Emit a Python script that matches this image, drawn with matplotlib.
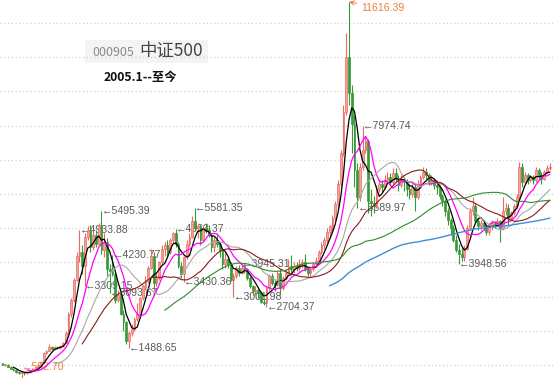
import numpy as np
import pandas as pd
import matplotlib
matplotlib.use("Agg")
import matplotlib.pyplot as plt
from matplotlib.patches import Rectangle

# ---------------- data (monthly OHLC, 2005.1 onward) ----------------
open_ = [1050,1000,1010,940,880,840,790,760,780,770,800,830,
         870,930,1000,1100,1350,1420,1520,1480,1530,1500,1560,1650,
         1950,2500,2900,3500,4200,4300,3900,4750,4950,4450,4800,4550,
         5100,4350,4600,3800,3750,3650,2900,3050,2500,2250,1700,1950,
         2050,2350,2500,2950,3300,3450,3850,4200,3400,3550,4000,4400,
         4500,4300,4650,4850,4550,3900,3650,4150,4550,4750,5200,5000,
         5050,4650,5000,4950,4800,4450,4650,4550,4350,3950,4100,3950,
         3500,3600,3850,3700,3850,3800,3550,3300,3150,3200,3100,2850,
         2800,3250,3600,3400,3350,3700,3250,3550,3700,3900,3800,3900,
         3850,3950,4000,3800,3700,3800,3950,4050,4300,4500,4650,4900,
         5050,5300,5700,6300,7200,8400,10000,8950,8050,6700,5900,6800,
         7300,7550,5800,5750,5650,6150,6300,6200,6400,6500,6350,6600,
         6450,6250,6450,6350,6150,6000,6200,5900,6300,6500,6650,6550,
         6350,6400,6250,6200,5950,5800,5500,5250,5000,4650,4350,4250,
         4150,4400,5000,5500,5650,5200,5050,5150,5050,4900,5050,5150,
         5100,5200,5000,5500,5600,5300,5450,5650,5900,6800,6350,6550,
         6400,6500,6400,6700,6550,6450,6650,6750]
high = [1070,1040,1020,960,900,860,810,800,800,820,850,880,
        940,1010,1120,1380,1450,1600,1560,1560,1570,1590,1680,1980,
        2550,2950,3550,4300,4933.88,4500,4850,5050,5100,4900,4950,5150,
        5495.39,4850,4700,3950,4230.77,3700,3200,3100,2600,2300,2000,2200,
        2400,2800,3000,3350,3600,3900,4400,4300,3700,4050,4500,4600,
        4650,4700,4900,4963.37,4600,4000,4200,4650,4850,5350,5581.35,5150,
        5100,5100,5150,5100,4850,4750,4800,4600,4400,4300,4200,4000,
        3700,3900,3920,3945.31,3940,3850,3600,3350,3300,3250,3150,2950,
        3300,3650,3700,3500,3750,3800,3600,3800,4100,4220,4000,4000,
        4100,4100,4250,3850,3850,4000,4150,4350,4600,4750,5000,5100,
        5400,5800,6400,7300,8600,10700,11616.39,9200,8300,6900,6900,7974.74,
        7700,7600,6150,5950,6250,6450,6400,6550,6650,6600,6750,6750,
        6550,6550,6500,6450,6300,6300,6300,6400,6550,6800,6750,6600,
        6550,6450,6400,6250,6000,5850,5600,5300,5100,4800,4550,4450,
        4500,5100,5600,5900,5750,5300,5250,5200,5100,5150,5250,5200,
        5300,5250,5900,5750,5700,5500,5700,6000,6950,6900,6650,6600,
        6550,6550,6800,6750,6650,6700,6850,6900]
low = [990,970,930,870,830,780,740,592.70,700,750,780,810,
       850,910,980,1090,1320,1400,1440,1450,1460,1480,1540,1630,
       1900,2400,2850,3450,4000,3650,3309.15,4650,4300,4350,4450,4500,
       4250,4150,3600,3093.67,3600,2800,2850,2450,2000,1600,1488.65,1850,
       2000,2300,2450,2900,3200,3400,3800,3200,3300,3500,3950,4200,
       4150,4250,4550,4450,3850,3550,3430.36,4100,4450,4700,4950,4700,
       4500,4600,4850,4750,4300,4300,4450,4150,3800,3850,3850,3450,
       3001.98,3550,3600,3650,3700,3500,3250,3050,3050,2950,2800,2750,
       2704.37,3200,3350,3150,3300,3050,3200,3500,3650,3700,3700,3750,
       3750,3850,3750,3600,3600,3750,3900,4000,4250,4400,4550,4700,
       4900,5200,5600,6200,7100,8300,8600,7200,6200,5589.97,5800,6700,
       7200,5450,5350,5450,5600,6050,6050,6150,6300,6250,6300,6350,
       6100,6200,6100,5950,5850,5900,5500,5850,6250,6450,6450,6250,
       6250,6150,6000,5850,5650,5350,5100,4800,4600,4300,3948.56,4050,
       4050,4350,4950,5400,5150,4950,4950,4950,4800,4800,4950,5000,
       5050,4600,4950,5400,5100,5250,5400,5600,5850,6200,6300,6300,
       6350,6300,6350,6450,6300,6400,6600,6700]
close = [1000,1010,940,880,840,790,760,780,770,800,830,870,
         930,1000,1100,1350,1420,1520,1480,1530,1500,1560,1650,1950,
         2500,2900,3500,4200,4300,3900,4750,4950,4450,4800,4550,5100,
         4350,4600,3800,3750,3650,2900,3050,2500,2250,1700,1950,2050,
         2350,2500,2950,3300,3450,3850,4200,3400,3550,4000,4400,4500,
         4300,4650,4850,4550,3900,3650,4150,4550,4750,5200,5000,5050,
         4650,5000,4950,4800,4450,4650,4550,4350,3950,4100,3950,3500,
         3600,3850,3700,3850,3800,3550,3300,3150,3200,3100,2850,2800,
         3250,3600,3400,3350,3700,3250,3550,3700,3900,3800,3900,3850,
         3950,4000,3800,3700,3800,3950,4050,4300,4500,4650,4900,5050,
         5300,5700,6300,7200,8400,10000,8950,8050,6700,5900,6800,7300,
         7550,5800,5750,5650,6150,6300,6200,6400,6500,6350,6600,6450,
         6250,6450,6350,6150,6000,6200,5900,6300,6500,6650,6550,6350,
         6400,6250,6200,5950,5800,5500,5250,5000,4650,4350,4250,4150,
         4400,5000,5500,5650,5200,5050,5150,5050,4900,5050,5150,5100,
         5200,5000,5500,5600,5300,5450,5650,5900,6800,6350,6550,6400,
         6500,6400,6700,6550,6450,6650,6750,6800]

ma_windows = [5, 10, 20, 30, 60, 120]
ma_colors = ["#000000", "#ff00ff", "#a8a8a8", "#8b1a1a", "#2e8b2e", "#3d8fd8"]
ma_widths = [0.9, 0.9, 0.8, 0.8, 0.8, 1.0]

# extreme-point labels: (candle index, value, text)
grey_labels = [(28, 4933.88, "4933.88"), (36, 5495.39, "5495.39"),
               (40, 4230.77, "4230.77"), (30, 3309.15, "3309.15"),
               (39, 3093.67, "3093.67"), (46, 1488.65, "1488.65"),
               (63, 4963.37, "4963.37"), (70, 5581.35, "5581.35"),
               (66, 3430.36, "3430.36"), (87, 3945.31, "3945.31"),
               (84, 3001.98, "3001.98"), (96, 2704.37, "2704.37"),
               (131, 7974.74, "7974.74"), (129, 5589.97, "5589.97"),
               (166, 3948.56, "3948.56")]
peak_label = (126, 11616.39, "11616.39")
trough_label = (7, 592.70, "592.70")

grid_levels = [1000, 2000, 3000, 4000, 5000, 6000, 7000, 8000, 9000, 10000, 11000]

# ---------------- figure ----------------
W, H = 554, 378
fig = plt.figure(figsize=(W / 100, H / 100), dpi=100)
fig.patch.set_facecolor("white")
ax = fig.add_axes([0, 0, 1, 1])
ax.set_xlim(-0.909, 200.55)
ax.set_ylim(619.9, 11672.5)
ax.axis("off")

for g in grid_levels:
    ax.axhline(g, color="#d2d2d2", lw=0.9, ls=(0, (1, 2)), zorder=0)

o = np.array(open_, float); h = np.array(high, float)
l = np.array(low, float); c = np.array(close, float)
idx = np.arange(len(c))
up = c >= o
up_face, up_edge = "#f5a39d", "#ec6a62"
dn_col = "#379a37"

ax.vlines(idx[up], l[up], h[up], color=up_edge, lw=0.8, zorder=3)
ax.vlines(idx[~up], l[~up], h[~up], color=dn_col, lw=0.8, zorder=3)
body_lo = np.minimum(o, c)
body_h = np.maximum(np.abs(c - o), 25)
ax.bar(idx[up], body_h[up], bottom=body_lo[up], width=0.72,
       color=up_face, edgecolor=up_edge, linewidth=0.5, zorder=3)
ax.bar(idx[~up], body_h[~up], bottom=body_lo[~up], width=0.72,
       color=dn_col, edgecolor=dn_col, linewidth=0.5, zorder=3)

cs = pd.Series(c)
for n, col, lw in zip(ma_windows, ma_colors, ma_widths):
    ax.plot(idx, cs.rolling(n).mean().values, color=col, lw=lw, zorder=4)

lab_font = ["Liberation Sans", "DejaVu Sans"]
for i, v, t in grey_labels:
    ax.text(i + 0.1, v, "\u2190" + t, ha="left", va="center", fontsize=7.6,
            color="#5a5a5a", family=lab_font, zorder=1)

orange = "#f07d3a"
pi, pv, pt = peak_label
ax.annotate(pt, xy=(pi, pv), xytext=(pi + 4.3, 11440), ha="left", va="center",
            fontsize=7.6, color=orange, family=lab_font, zorder=5,
            arrowprops=dict(arrowstyle="->", color=orange, lw=0.7,
                            shrinkA=1, shrinkB=0))
ti, tv, tt = trough_label
ax.text(ti + 0.1, 941, "\u2190" + tt, ha="left", va="center", fontsize=7.6,
        color=orange, family=lab_font, zorder=1)

# title block
fig.add_artist(Rectangle((85 / W, 1 - 63 / H), 123 / W, 23 / H,
                         transform=fig.transFigure, facecolor="#f4f4f4",
                         edgecolor="none", zorder=0))
cjk = ["Noto Sans CJK SC", "DejaVu Sans"]
fig.text(92 / W, 1 - 52 / H, "000905", ha="left", va="center", fontsize=9,
         color="#8a8a8a", family=cjk)
fig.text(139 / W, 1 - 51 / H, "中证500", ha="left", va="center", fontsize=12.5,
         color="#454545", family=cjk)
fig.text(104 / W, 1 - 77 / H, "2005.1--至今", ha="left", va="center", fontsize=8.8,
         color="#111111", family=cjk, fontweight="bold")

fig.savefig("out.png", dpi=100)
